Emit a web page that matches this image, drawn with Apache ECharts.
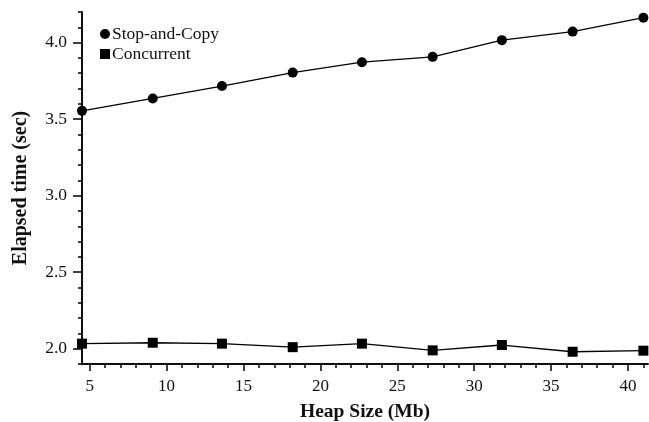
<!DOCTYPE html>
<html>
<head>
<meta charset="utf-8">
<script src="https://cdn.jsdelivr.net/npm/echarts@6/dist/echarts.min.js"></script>
<style>html,body{margin:0;padding:0;background:#fff}#c{width:649px;height:422px}</style>
</head>
<body>
<div id="c"></div>
<script>
const heapSize = [4.5, 9.1, 13.6, 18.2, 22.7, 27.3, 31.8, 36.4, 41.0];
const stopAndCopy = [3.554, 3.635, 3.716, 3.804, 3.872, 3.907, 4.016, 4.072, 4.163];
const concurrent = [2.033, 2.039, 2.033, 2.010, 2.033, 1.989, 2.024, 1.980, 1.987];
const seriesNames = ['Stop-and-Copy', 'Concurrent'];
const xMajorTicks = [5, 10, 15, 20, 25, 30, 35, 40];
const xMinorTicks = [5,6,7,8,9,10,11,12,13,14,15,16,17,18,19,20,21,22,23,24,25,26,27,28,29,30,31,32,33,34,35,36,37,38,39,40,41];
const yMajorTicks = [2.0, 2.5, 3.0, 3.5, 4.0];
const yMinorTicks = [1.9,2.0,2.1,2.2,2.3,2.4,2.5,2.6,2.7,2.8,2.9,3.0,3.1,3.2,3.3,3.4,3.5,3.6,3.7,3.8,3.9,4.0,4.1,4.2];

const FONT = '"Liberation Serif", "DejaVu Serif", serif';
const TXT = '#111';
const chart = echarts.init(document.getElementById('c'), null, {renderer: 'canvas'});

function xAxisBase(extra) {
  return Object.assign({
    type: 'value', min: 4.5, max: 41.3, position: 'bottom',
    splitLine: {show: false},
    axisLine: {show: true, onZero: false, lineStyle: {color: '#000', width: 1.5}}
  }, extra);
}
function yAxisBase(extra) {
  return Object.assign({
    type: 'value', min: 1.9, max: 4.2, position: 'left',
    splitLine: {show: false},
    axisLine: {show: true, onZero: false, lineStyle: {color: '#000', width: 1.5}}
  }, extra);
}

chart.setOption({
  animation: false,
  backgroundColor: '#fff',
  grid: {left: 82, right: 1, top: 12, bottom: 58, containLabel: false, outerBoundsMode: 'none'},
  legend: {
    orient: 'vertical', left: 95, top: 20, itemGap: 2,
    itemWidth: 10, itemHeight: 10,
    textStyle: {fontFamily: FONT, fontSize: 17.5, color: TXT, padding: [0, 0, 0, -3]},
    data: [{name: seriesNames[0], icon: 'circle'}, {name: seriesNames[1], icon: 'rect'}]
  },
  xAxis: [
    xAxisBase({
      name: 'Heap Size (Mb)', nameLocation: 'middle', nameGap: 38,
      nameTextStyle: {fontFamily: FONT, fontSize: 19.5, fontWeight: 'bold', color: TXT},
      axisTick: {show: true, length: 7, lineStyle: {color: '#000', width: 1.5}, customValues: xMajorTicks},
      axisLabel: {show: true, fontFamily: FONT, fontSize: 17, color: TXT, margin: 14, customValues: xMajorTicks}
    }),
    xAxisBase({
      axisTick: {show: true, length: 4, lineStyle: {color: '#000', width: 1.5}, customValues: xMinorTicks},
      axisLabel: {show: false}
    })
  ],
  yAxis: [
    yAxisBase({
      name: 'Elapsed time (sec)', nameLocation: 'middle', nameGap: 51,
      nameTextStyle: {fontFamily: FONT, fontSize: 20, fontWeight: 'bold', color: TXT},
      axisTick: {show: true, length: 9, lineStyle: {color: '#000', width: 1.5}, customValues: yMajorTicks},
      axisLabel: {show: true, fontFamily: FONT, fontSize: 17.5, color: TXT, margin: 15,
        customValues: yMajorTicks, formatter: v => Number(v).toFixed(1)}
    }),
    yAxisBase({
      axisTick: {show: true, length: 4, lineStyle: {color: '#000', width: 1.5}, customValues: yMinorTicks},
      axisLabel: {show: false}
    })
  ],
  series: [
    {
      name: seriesNames[0], type: 'line', xAxisIndex: 0, yAxisIndex: 0,
      data: heapSize.map((x, i) => [x, stopAndCopy[i]]),
      symbol: 'circle', symbolSize: 10, showAllSymbol: true,
      lineStyle: {color: '#000', width: 1.3}, itemStyle: {color: '#000'}
    },
    {
      name: seriesNames[1], type: 'line', xAxisIndex: 0, yAxisIndex: 0,
      data: heapSize.map((x, i) => [x, concurrent[i]]),
      symbol: 'rect', symbolSize: 10, showAllSymbol: true,
      lineStyle: {color: '#000', width: 1.3}, itemStyle: {color: '#000'}
    }
  ]
});
</script>
</body>
</html>
